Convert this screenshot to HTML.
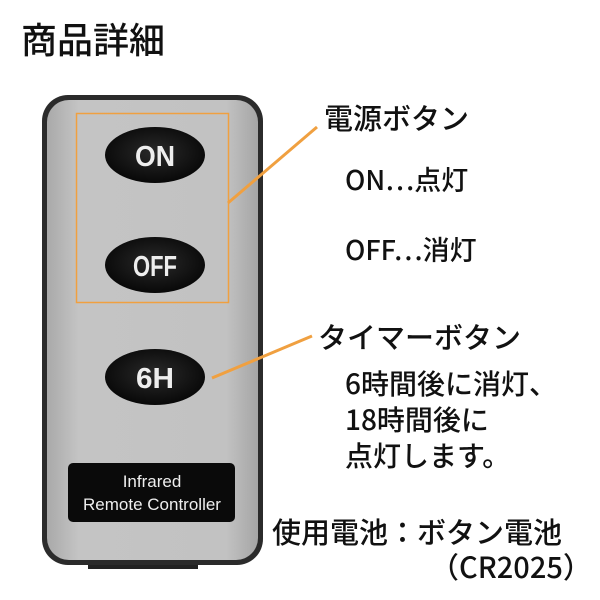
<!DOCTYPE html>
<html><head><meta charset="utf-8"><style>
html,body{margin:0;padding:0;background:#fff;width:600px;height:600px;overflow:hidden}
text{font-family:"Liberation Sans","Noto Sans CJK JP",sans-serif}
.j{font-family:"Noto Sans CJK JP",sans-serif;fill:#111;font-weight:500}
</style></head><body>
<svg width="600" height="600" viewBox="0 0 600 600" xmlns="http://www.w3.org/2000/svg">
<defs>
<linearGradient id="g" x1="0" x2="1" y1="0" y2="0">
<stop offset="0" stop-color="#a9a9a9"/><stop offset="0.15" stop-color="#c4c4c4"/><stop offset="0.85" stop-color="#c2c2c2"/><stop offset="1" stop-color="#a5a5a5"/>
</linearGradient>
<radialGradient id="b" cx="0.5" cy="0.45" r="0.6">
<stop offset="0" stop-color="#2a2a2a"/><stop offset="1" stop-color="#050505"/>
</radialGradient>
</defs>
<text class="j" x="21" y="53" font-size="36">商品詳細</text>
<rect x="88" y="555" width="110" height="14" fill="#222"/>
<rect x="42" y="95" width="221" height="470" rx="26" fill="#2b2b2b"/>
<rect x="47" y="100" width="211" height="460" rx="22" fill="url(#g)"/>
<rect x="76.5" y="113.5" width="152" height="189" fill="none" stroke="#f0a040" stroke-width="1.5"/>
<ellipse cx="155" cy="155" rx="50" ry="28" fill="url(#b)"/>
<ellipse cx="155" cy="265" rx="50" ry="28" fill="url(#b)"/>
<ellipse cx="155" cy="377" rx="50" ry="28" fill="url(#b)"/>
<g font-weight="bold" fill="#eee" font-size="29" text-anchor="middle">
<text x="155" y="166" textLength="40" lengthAdjust="spacingAndGlyphs" style="font-family:'Liberation Sans',sans-serif">ON</text>
<text x="155" y="276" textLength="44" lengthAdjust="spacingAndGlyphs" style="font-family:'Liberation Sans',sans-serif">OFF</text>
<text x="155" y="388" textLength="38" lengthAdjust="spacingAndGlyphs" style="font-family:'Liberation Sans',sans-serif">6H</text>
</g>
<rect x="68" y="463" width="167" height="59" rx="5" fill="#0a0a0a"/>
<g fill="#eee" font-size="17" text-anchor="middle">
<text x="152" y="487">Infrared</text>
<text x="152" y="510">Remote Controller</text>
</g>
<line x1="228" y1="203" x2="317" y2="127" stroke="#f0a040" stroke-width="3"/>
<line x1="212" y1="378" x2="312" y2="336" stroke="#f0a040" stroke-width="3"/>
<g font-size="29">
<text class="j" x="324" y="129">電源ボタン</text>
<text class="j" x="345" y="190" font-size="27">ON⋯点灯</text>
<text class="j" x="345" y="260" font-size="27">OFF⋯消灯</text>
<text class="j" x="318" y="348">タイマーボタン</text>
<text class="j" x="345" y="394" font-size="28">6時間後に消灯、</text>
<text class="j" x="345" y="430" font-size="28">18時間後に</text>
<text class="j" x="345" y="466" font-size="28">点灯します。</text>
<text class="j" x="272" y="543">使用電池：ボタン電池</text>
<text class="j" x="430" y="578">（CR2025）</text>
</g>
</svg>
</body></html>
